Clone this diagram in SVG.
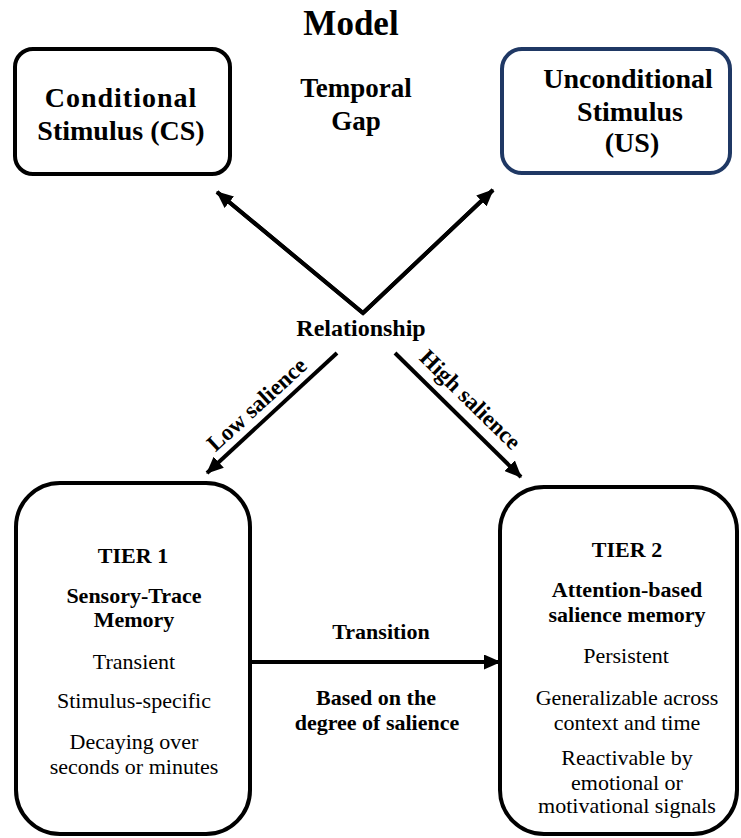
<svg xmlns="http://www.w3.org/2000/svg" width="741" height="838" viewBox="0 0 741 838">
<style>
text{fill:#000;text-anchor:middle}
.b{font-weight:bold}
.box{fill:#fff;stroke:#000;stroke-width:4}
.us{stroke:#1f3864}
.con{stroke:#000;stroke-width:4;fill:none;marker-end:url(#ah)}
.t28{font-size:28px}
.t22{font-size:22px}
</style>
<defs>
<marker id="ah" markerUnits="userSpaceOnUse" markerWidth="17" markerHeight="15" refX="16" refY="7.5" orient="auto">
<path d="M0,0 L17,7.5 L0,15 z" fill="#000"/>
</marker>
</defs>
<rect width="741" height="838" fill="#fff"/>
<g font-family="'Liberation Serif', 'DejaVu Serif', serif">
<text id="title" class="b" x="351" y="35" font-size="35">Model</text>
<g id="cs">
<rect class="box" x="15" y="49" width="215" height="125" rx="18"/>
<text class="b t28" x="121" y="107" letter-spacing="1">Conditional</text>
<text class="b t28" x="121" y="140">Stimulus (CS)</text>
</g>
<g id="gap">
<text class="b" x="356" y="97" font-size="27">Temporal</text>
<text class="b" x="356" y="130" font-size="27">Gap</text>
</g>
<g id="us">
<rect class="box us" x="502" y="49" width="228" height="124" rx="20"/>
<text class="b t28" x="628" y="88">Unconditional</text>
<text class="b t28" x="630" y="121">Stimulus</text>
<text class="b t28" x="632" y="152">(US)</text>
</g>
<g id="relationship">
<text class="b" x="361" y="336" font-size="24">Relationship</text>
</g>
<g id="tier1">
<rect class="box" x="16" y="483" width="234" height="351" rx="44"/>
<text class="b t22" x="133" y="563">TIER 1</text>
<text class="b t22" x="134" y="603">Sensory-Trace</text>
<text class="b t22" x="134" y="627">Memory</text>
<text class="t22" x="134" y="669">Transient</text>
<text class="t22" x="134" y="708">Stimulus-specific</text>
<text class="t22" x="134" y="749">Decaying over</text>
<text class="t22" x="134" y="774">seconds or minutes</text>
</g>
<g id="tier2">
<rect class="box" x="500" y="487" width="237" height="347" rx="44"/>
<text class="b t22" x="627" y="557">TIER 2</text>
<text class="b t22" x="627" y="597">Attention-based</text>
<text class="b t22" x="627" y="622">salience memory</text>
<text class="t22" x="626" y="663">Persistent</text>
<text class="t22" x="627" y="705">Generalizable across</text>
<text class="t22" x="627" y="730">context and time</text>
<text class="t22" x="627" y="765">Reactivable by</text>
<text class="t22" x="627" y="790">emotional or</text>
<text class="t22" x="627" y="813">motivational signals</text>
</g>
<g id="connectors">
<polyline points="217,192 363,313 493,190" fill="none" stroke="#000" stroke-width="4"/>
<line class="con" x1="363" y1="313" x2="217" y2="192"/>
<line class="con" x1="363" y1="313" x2="493" y2="190"/>
<line class="con" x1="337" y1="353" x2="207" y2="473"/>
<line class="con" x1="395" y1="353" x2="521" y2="477"/>
<line class="con" x1="250" y1="662" x2="500" y2="662"/>
<text class="b" font-size="23" transform="translate(262,410) rotate(-42.5)" x="0" y="0">Low salience</text>
<text class="b" font-size="23" transform="translate(465,405) rotate(44.5)" x="0" y="0">High salience</text>
<text class="b t22" x="381" y="639">Transition</text>
<text class="b t22" x="376" y="705">Based on the</text>
<text class="b t22" x="377" y="730">degree of salience</text>
</g>
</g>
</svg>
